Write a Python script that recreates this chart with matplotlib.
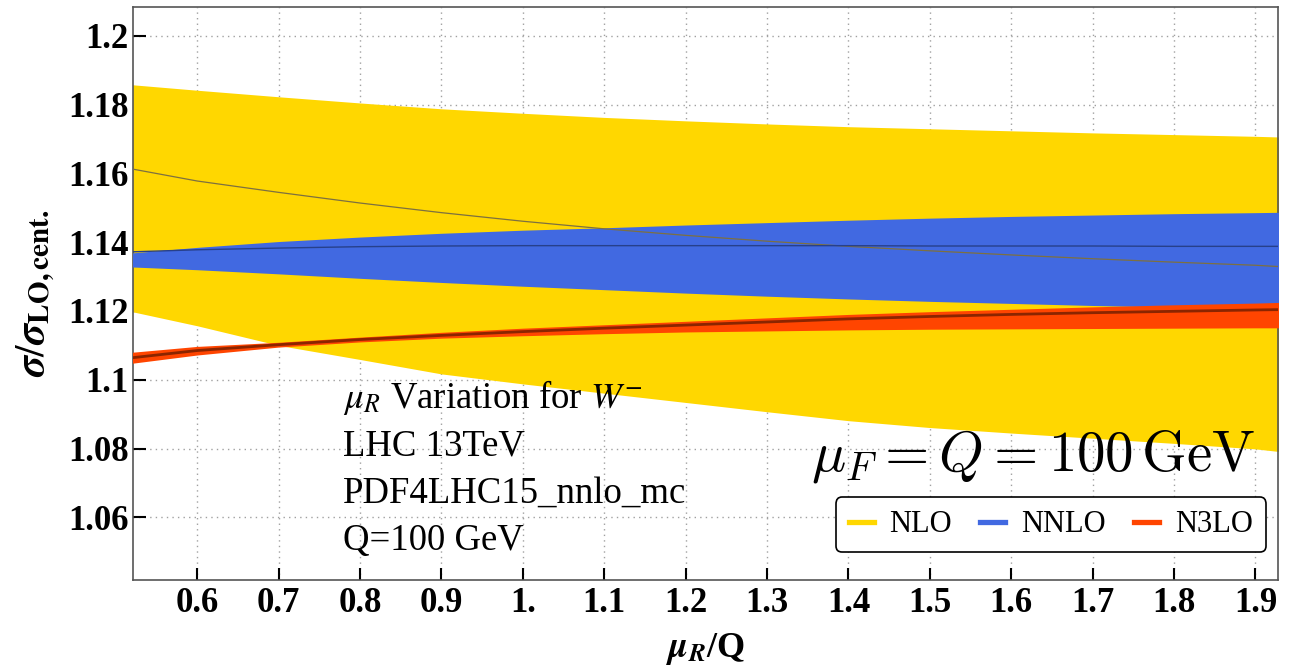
"""
Renormalisation-scale variation of the W- cross section ratio (NLO, NNLO, N3LO).
"""

import matplotlib

matplotlib.use("Agg")

import matplotlib.pyplot as plt
from matplotlib.lines import Line2D

# mu_R / Q sample points
mu_r = [0.52, 0.6, 0.7, 0.8, 0.9, 1.0, 1.1, 1.2, 1.3, 1.4, 1.5, 1.6, 1.7, 1.8, 1.9, 1.93]

# NLO band and central value
nlo_low = [1.1198, 1.1157, 1.1100, 1.1059, 1.1017, 1.0988, 1.0961, 1.0934,
           1.0907, 1.0881, 1.0861, 1.0845, 1.0830, 1.0815, 1.0799, 1.0791]
nlo_high = [1.1858, 1.1842, 1.1823, 1.1805, 1.1788, 1.1775, 1.1763, 1.1753,
            1.1744, 1.1736, 1.1730, 1.1724, 1.1718, 1.1713, 1.1708, 1.1706]
nlo_cent = [1.1613, 1.1578, 1.1545, 1.1514, 1.1486, 1.1461, 1.1439, 1.1420,
            1.1403, 1.1388, 1.1375, 1.1363, 1.1352, 1.1342, 1.1333, 1.1329]

# NNLO band and central value
nnlo_low = [1.1328, 1.1320, 1.1308, 1.1295, 1.1283, 1.1272, 1.1262, 1.1252,
            1.1243, 1.1235, 1.1228, 1.1222, 1.1216, 1.1211, 1.1205, 1.1203]
nnlo_high = [1.1369, 1.1385, 1.1402, 1.1415, 1.1426, 1.1435, 1.1442, 1.1450,
             1.1457, 1.1464, 1.1470, 1.1475, 1.1479, 1.1483, 1.1486, 1.1487]
nnlo_cent = [1.1372, 1.1378, 1.1383, 1.1387, 1.1389, 1.1390, 1.1390, 1.1390,
             1.1390, 1.1390, 1.1389, 1.1389, 1.1389, 1.1388, 1.1388, 1.1388]

# N3LO band and central value
n3lo_low = [1.1048, 1.1072, 1.1095, 1.1110, 1.1121, 1.1128, 1.1134, 1.1139,
            1.1142, 1.1145, 1.1147, 1.1148, 1.1149, 1.1150, 1.1151, 1.1151]
n3lo_high = [1.1080, 1.1097, 1.1109, 1.1124, 1.1138, 1.1150, 1.1160, 1.1170,
             1.1180, 1.1190, 1.1198, 1.1205, 1.1212, 1.1218, 1.1223, 1.1225]
n3lo_cent = [1.1064, 1.1085, 1.1102, 1.1117, 1.1129, 1.1140, 1.1150, 1.1159,
             1.1168, 1.1177, 1.1184, 1.1190, 1.1195, 1.1199, 1.1203, 1.1204]

x_ticks = [0.6, 0.7, 0.8, 0.9, 1.0, 1.1, 1.2, 1.3, 1.4, 1.5, 1.6, 1.7, 1.8, 1.9]
x_tick_labels = ["0.6", "0.7", "0.8", "0.9", "1.", "1.1", "1.2", "1.3", "1.4",
                 "1.5", "1.6", "1.7", "1.8", "1.9"]
y_ticks = [1.06, 1.08, 1.10, 1.12, 1.14, 1.16, 1.18, 1.20]
y_tick_labels = ["1.06", "1.08", "1.1", "1.12", "1.14", "1.16", "1.18", "1.2"]

info_lines = [r"$\mu_R$ Variation for $W^{-}$", "LHC 13TeV",
              "PDF4LHC15_nnlo_mc", "Q=100 GeV"]
legend_labels = ["NLO", "NNLO", "N3LO"]

plt.rcParams["font.family"] = ["Liberation Serif", "DejaVu Serif"]
plt.rcParams["mathtext.fontset"] = "stix"

fig = plt.figure(figsize=(13.03, 6.70), dpi=100)
ax = fig.add_axes([0.102, 0.134, 0.879, 0.855])

# bands
ax.fill_between(mu_r, nlo_low, nlo_high, color="#FFD700", lw=0, zorder=2)
ax.fill_between(mu_r, nnlo_low, nnlo_high, color="#4169E1", lw=0, zorder=3)
ax.fill_between(mu_r, n3lo_low, n3lo_high, color="#FF4500", lw=0, zorder=4)

# central values
ax.plot(mu_r, nlo_cent, color="#7D7040", lw=0.9, zorder=5)
ax.plot(mu_r, nnlo_cent, color="#27408B", lw=1.0, zorder=5)
ax.plot(mu_r, n3lo_cent, color="#8B2500", lw=2.0, zorder=5)

ax.set_xlim(0.521, 1.928)
ax.set_ylim(1.0417, 1.2083)

ax.set_xticks(x_ticks)
ax.set_xticklabels(x_tick_labels)
ax.set_yticks(y_ticks)
ax.set_yticklabels(y_tick_labels)
ax.tick_params(direction="in", length=9, width=1.5, labelsize=25,
               top=False, right=False)
ax.tick_params(axis="x", pad=5)
ax.tick_params(axis="y", pad=3)
for label in ax.get_xticklabels() + ax.get_yticklabels():
    label.set_fontweight("bold")

ax.grid(True, linestyle=(0, (1, 3)), color="#A0A0A0", lw=1.0, zorder=1)
for spine in ax.spines.values():
    spine.set_color("#555555")
    spine.set_linewidth(1.2)

ax.set_xlabel(r"$\mathbfit{\mu}_{\mathbfit{R}}$/Q", fontsize=26,
              fontweight="bold", labelpad=8)
ax.set_ylabel(r"$\mathbfit{\sigma}/\mathbfit{\sigma}_{\mathbf{LO,cent.}}$",
              fontsize=30, fontweight="bold", labelpad=8)

# info text block
for i, line in enumerate(info_lines):
    ax.text(0.1834, 0.300 - 0.0822 * i, line, transform=ax.transAxes,
            fontsize=26.5, va="baseline", ha="left", zorder=6)

ax.text(0.980, 0.192, r"$\mu_F = Q = 100\,\mathrm{GeV}$",
        transform=ax.transAxes, fontsize=41, va="baseline", ha="right",
        math_fontfamily="cm", zorder=6)

handles = [
    Line2D([], [], color="#FFD700", lw=3.8),
    Line2D([], [], color="#4169E1", lw=3.8),
    Line2D([], [], color="#FF4500", lw=3.8),
]
leg = ax.legend(handles, legend_labels, loc="lower right",
                bbox_to_anchor=(0.989, 0.049), borderaxespad=0, ncol=3,
                fontsize=22, handlelength=0.82, handletextpad=0.52,
                columnspacing=0.92, borderpad=0.42, framealpha=1.0,
                edgecolor="black", fancybox=True)
leg.get_frame().set_linewidth(1.2)
leg.set_zorder(7)

fig.savefig("out.png", dpi=100)
plt.close(fig)
